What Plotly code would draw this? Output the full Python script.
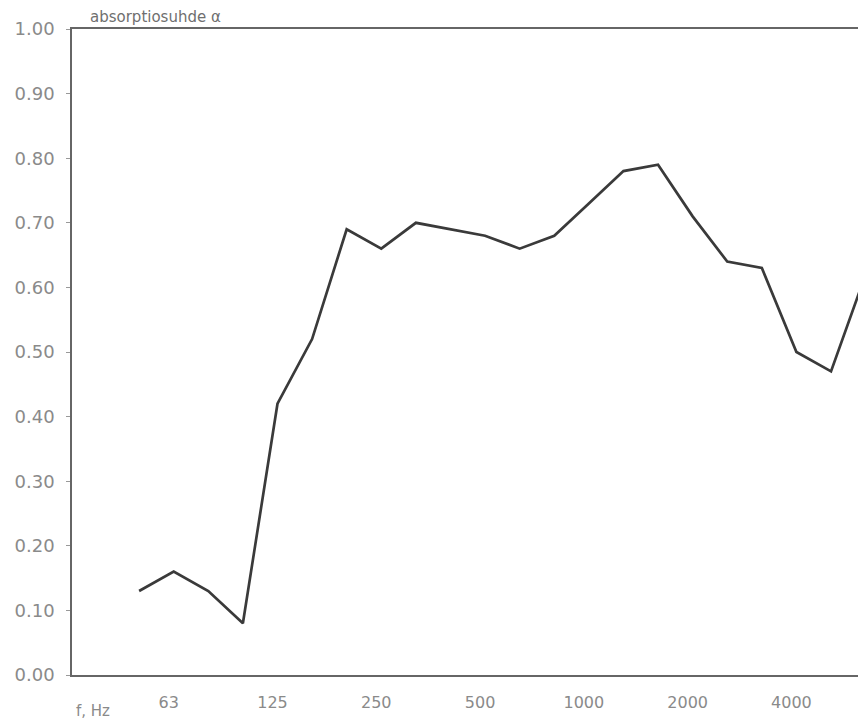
import plotly.graph_objects as go

# Third-octave band centre frequencies (Hz) and measured absorption coefficient
bands = [50, 63, 80, 100, 125, 160, 200, 250, 315, 400, 500, 630,
         800, 1000, 1250, 1600, 2000, 2500, 3150, 4000, 5000, 6300]
alpha = [0.13, 0.16, 0.13, 0.08, 0.42, 0.52, 0.69, 0.66, 0.70, 0.69, 0.68, 0.66,
         0.68, 0.73, 0.78, 0.79, 0.71, 0.64, 0.63, 0.50, 0.47, 0.62]

# Octave labels shown along the frequency axis
octave_labels = ["63", "125", "250", "500", "1000", "2000", "4000"]

band_idx = list(range(len(bands)))
label_idx = [bands.index(int(t)) for t in octave_labels]

label_font = dict(family="DejaVu Sans", size=16, color="#8a8a8a")

fig = go.Figure()
fig.add_trace(go.Scatter(
    x=band_idx, y=alpha, mode="lines",
    line=dict(color="#3a3a3a", width=2.7),
    hoverinfo="skip", showlegend=False,
))

fig.update_layout(
    width=858, height=719,
    margin=dict(l=72, r=0, t=29, b=44),
    paper_bgcolor="#ffffff", plot_bgcolor="#ffffff",
    xaxis=dict(
        range=[-1.94, 20.78],
        tickmode="array", tickvals=label_idx, ticktext=octave_labels,
        showgrid=False, zeroline=False,
        showline=True, mirror=True, linecolor="#666666", linewidth=1.5,
        ticks="", ticklabelstandoff=12, ticklabelshift=-5,
        tickfont=label_font,
    ),
    yaxis=dict(
        range=[0, 1], tickmode="array",
        tickvals=[i / 10 for i in range(11)],
        ticktext=[f"{i / 10:.2f}" for i in range(11)],
        showgrid=False, zeroline=False,
        showline=True, mirror=False, linecolor="#666666", linewidth=1.5,
        ticks="outside", ticklen=4, tickcolor="#999999", tickwidth=1,
        ticklabelstandoff=8,
        tickfont=dict(family="DejaVu Sans", size=18, color="#8a8a8a"),
    ),
    annotations=[
        dict(text="absorptiosuhde α", xref="paper", yref="paper",
             x=0.02, y=1, xanchor="left", yanchor="bottom", yshift=1,
             showarrow=False,
             font=dict(family="DejaVu Sans", size=15, color="#6f6f6f")),
        dict(text="f, Hz", xref="paper", yref="paper",
             x=0.002, y=0, xanchor="left", yanchor="top", yshift=-25,
             showarrow=False,
             font=dict(family="DejaVu Sans", size=15, color="#8a8a8a")),
    ],
)

fig.write_html("out.html")
